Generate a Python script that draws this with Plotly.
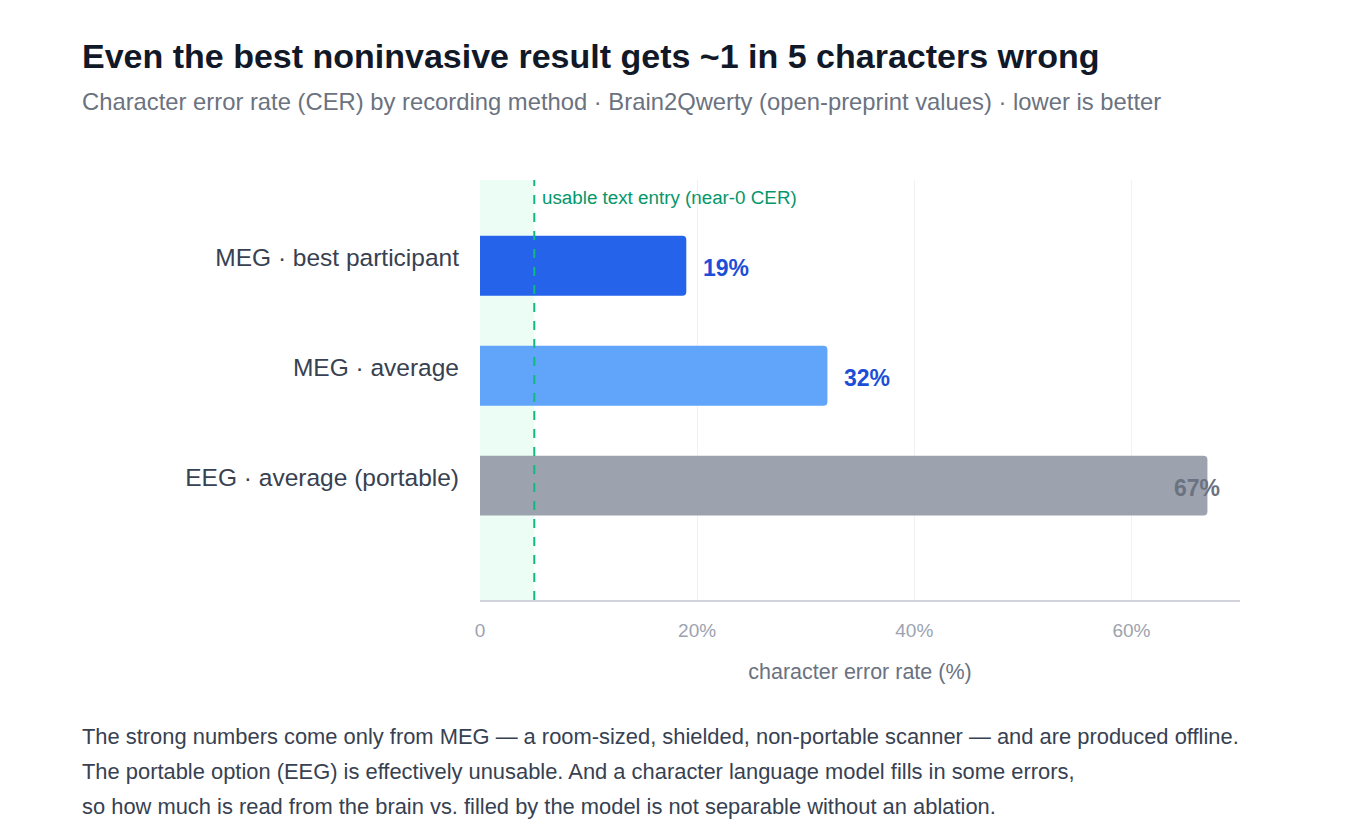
import plotly.graph_objects as go

categories = ["MEG · best participant", "MEG · average", "EEG · average (portable)"]
cer_values = [19, 32, 67]
bar_colors = ["#2563eb", "#60a5fa", "#9ca3af"]
label_colors = ["#1d4ed8", "#1d4ed8", "#6b7280"]
usable_threshold = 5
tick_vals = [0, 20, 40, 60]
tick_text = ["0", "20%", "40%", "60%"]

FONT = "Liberation Sans, Arial, Helvetica, sans-serif"
W, H = 1360, 840
L, R, T, B = 480, 120, 180, 240
pw, ph = W - L - R, H - T - B

def px(x):
    return (x - L) / pw

def py(y):
    return (H - B - y) / ph

fig = go.Figure()
fig.add_trace(go.Bar(
    y=categories, x=cer_values, orientation="h",
    marker=dict(color=bar_colors, line=dict(width=0)),
    width=0.545, hoverinfo="skip",
))

fig.add_vrect(x0=0, x1=usable_threshold, fillcolor="#ecfdf5", opacity=1, line_width=0, layer="below")
fig.add_vline(x=usable_threshold, line=dict(color="#10b981", width=2, dash="dash"))

anns = []
for i, (c, v) in enumerate(zip(categories, cer_values)):
    fits = v < 60
    anns.append(dict(
        x=v, y=c, xref="x", yref="y", text=f"<b>{v}%</b>", showarrow=False,
        xanchor="left" if fits else "right", xshift=15, yshift=-2,
        font=dict(family=FONT, size=23, color=label_colors[i]),
    ))
anns.append(dict(
    x=usable_threshold, y=py(197), xref="x", yref="paper",
    text="usable text entry (near-0 CER)", showarrow=False,
    xanchor="left", yanchor="middle", xshift=6,
    font=dict(family=FONT, size=18.8, color="#059669"),
))
anns.append(dict(
    x=px(80), y=py(56), xref="paper", yref="paper", xanchor="left", yanchor="middle",
    text="<b>Even the best noninvasive result gets ~1 in 5 characters wrong</b>",
    showarrow=False, font=dict(family=FONT, size=34, color="#111827"),
))
anns.append(dict(
    x=px(80), y=py(101), xref="paper", yref="paper", xanchor="left", yanchor="middle",
    text="Character error rate (CER) by recording method · Brain2Qwerty (open-preprint values) · lower is better",
    showarrow=False, font=dict(family=FONT, size=23.8, color="#6b7280"),
))
footer = [
    "The strong numbers come only from MEG — a room-sized, shielded, non-portable scanner — and are produced offline.",
    "The portable option (EEG) is effectively unusable. And a character language model fills in some errors,",
    "so how much is read from the brain vs. filled by the model is not separable without an ablation.",
]
for k, line in enumerate(footer):
    anns.append(dict(
        x=px(80), y=py(736 + 35 * k), xref="paper", yref="paper", xanchor="left", yanchor="middle",
        text=line, showarrow=False, font=dict(family=FONT, size=21.9, color="#374151"),
    ))

fig.update_layout(
    width=W, height=H,
    margin=dict(l=L, r=R, t=T, b=B),
    paper_bgcolor="white", plot_bgcolor="white",
    showlegend=False, barcornerradius=4,
    font=dict(family=FONT),
    annotations=anns,
    xaxis=dict(
        range=[0, 70], tickvals=tick_vals, ticktext=tick_text,
        showgrid=True, gridcolor="#f0f1f3", gridwidth=1, zeroline=False,
        showline=True, linecolor="#d1d5db", linewidth=2,
        tickfont=dict(family=FONT, size=19, color="#9ca3af"), ticks="", ticklen=0,
        ticklabelstandoff=12,
        title=dict(text="character error rate (%)", font=dict(family=FONT, size=21.5, color="#6b7280"), standoff=24),
        fixedrange=True,
    ),
    yaxis=dict(
        type="category", categoryorder="array", categoryarray=categories,
        range=[3.04, -0.78], showgrid=False, zeroline=False, showline=False,
        tickfont=dict(family=FONT, size=24.5, color="#374151"), ticks="", ticklen=0,
        ticklabelstandoff=20, ticklabelshift=8,
        automargin=False, fixedrange=True,
    ),
)

fig.write_html("out.html", config={"displayModeBar": False})
